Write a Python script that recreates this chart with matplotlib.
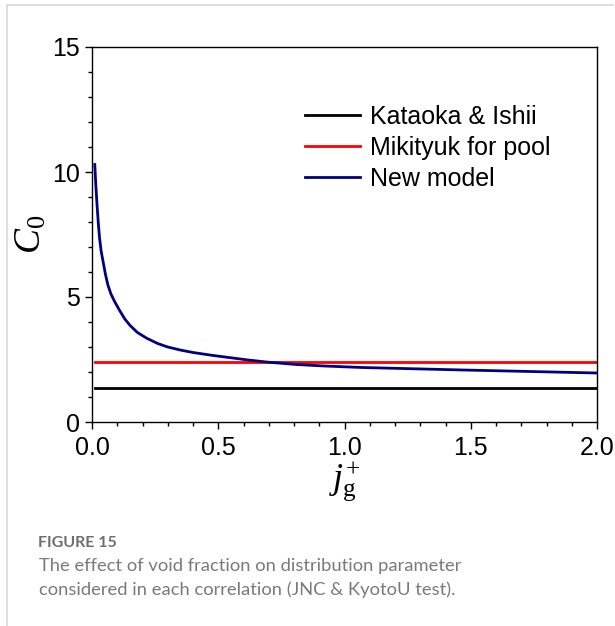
import matplotlib
matplotlib.use("Agg")
import matplotlib.pyplot as plt
from matplotlib.lines import Line2D
from matplotlib.ticker import MultipleLocator

# Superficial gas velocity (dimensionless) and distribution parameter C0
jg_new = [0.011, 0.015, 0.02, 0.025, 0.03, 0.036, 0.044, 0.053, 0.063, 0.075,
          0.09, 0.11, 0.13, 0.15, 0.18, 0.217, 0.26, 0.3, 0.349, 0.4, 0.48,
          0.55, 0.61, 0.69, 0.81, 0.92, 1.07, 1.47, 2.0]
c0_new = [10.3, 9.5, 8.68, 7.95, 7.35, 6.85, 6.41, 5.92, 5.48, 5.12,
          4.81, 4.45, 4.12, 3.87, 3.58, 3.35, 3.14, 3.0, 2.88, 2.78, 2.66,
          2.57, 2.49, 2.40, 2.30, 2.24, 2.18, 2.08, 1.96]

jg_range = [0.011, 2.0]
c0_kataoka = [1.35, 1.35]
c0_mikityuk = [2.4, 2.4]

labels = ["Kataoka & Ishii", "Mikityuk for pool", "New model"]
colors = ["#000000", "#ff0000", "#000080"]

x_ticks = [0.0, 0.5, 1.0, 1.5, 2.0]
y_ticks = [0, 5, 10, 15]

plt.rcParams["font.family"] = ["Liberation Sans", "DejaVu Sans"]
plt.rcParams["mathtext.fontset"] = "custom"
plt.rcParams["mathtext.rm"] = "Liberation Serif"
plt.rcParams["mathtext.it"] = "Liberation Serif:italic"
plt.rcParams["mathtext.bf"] = "Liberation Serif:bold"

fig = plt.figure(figsize=(6.15, 6.26), dpi=100)
ax = fig.add_axes([92 / 615, 1 - 422 / 626, (597 - 92) / 615, (422 - 47) / 626])

ax.plot(jg_range, c0_kataoka, color=colors[0], lw=2.0, label=labels[0])
ax.plot(jg_range, c0_mikityuk, color=colors[1], lw=2.0, label=labels[1])
ax.plot(jg_new, c0_new, color=colors[2], lw=2.0, label=labels[2],
        solid_joinstyle="round")

ax.set_xlim(0, 2.0)
ax.set_ylim(0, 15)
ax.set_xticks(x_ticks)
ax.set_xticklabels([f"{v:.1f}" for v in x_ticks])
ax.set_yticks(y_ticks)
ax.set_yticklabels([str(v) for v in y_ticks])
ax.xaxis.set_minor_locator(MultipleLocator(0.1))
ax.yaxis.set_minor_locator(MultipleLocator(1))
ax.tick_params(which="major", direction="out", length=5, width=1.0,
               labelsize=18, pad=3.5, top=False, right=False)
ax.tick_params(which="minor", direction="out", length=3, width=1.0,
               top=False, right=False)
ax.tick_params(axis="x", which="major", pad=5)
for s in ax.spines.values():
    s.set_linewidth(1.0)

ax.set_ylabel(r"$C_{\mathit{0}}$", fontsize=27, labelpad=3)
ax.set_xlabel(r"$j_{\mathrm{g}}^{+}$", fontsize=26, labelpad=0)

ax.legend(loc="upper left", bbox_to_anchor=(305 / 615, 1 - 105 / 626),
          bbox_transform=fig.transFigure, frameon=False, fontsize=18,
          handlelength=2.2, handletextpad=0.4, labelspacing=0.28,
          borderpad=0, borderaxespad=0)

# caption block
cap_font = ["Lato", "DejaVu Sans"]
fig.text(38 / 615, 1 - 543 / 626, "FIGURE 15", fontsize=11.5, fontweight="bold",
         color="#6e6e6e", family=cap_font, va="center")
fig.text(39 / 615, 1 - 566 / 626,
         "The effect of void fraction on distribution parameter",
         fontsize=13.2, color="#7a7a7a", family=cap_font, va="center")
fig.text(39 / 615, 1 - 590 / 626,
         "considered in each correlation (JNC & KyotoU test).",
         fontsize=13.2, color="#7a7a7a", family=cap_font, va="center")

# light frame along the left and top edges
fig.add_artist(Line2D([7 / 615, 7 / 615], [0, 1 - 5 / 626],
                      transform=fig.transFigure, color="#d8d8d8", lw=1.2))
fig.add_artist(Line2D([7 / 615, 613 / 615], [1 - 5 / 626, 1 - 5 / 626],
                      transform=fig.transFigure, color="#d8d8d8", lw=1.2))

fig.savefig("out.png", dpi=100)
